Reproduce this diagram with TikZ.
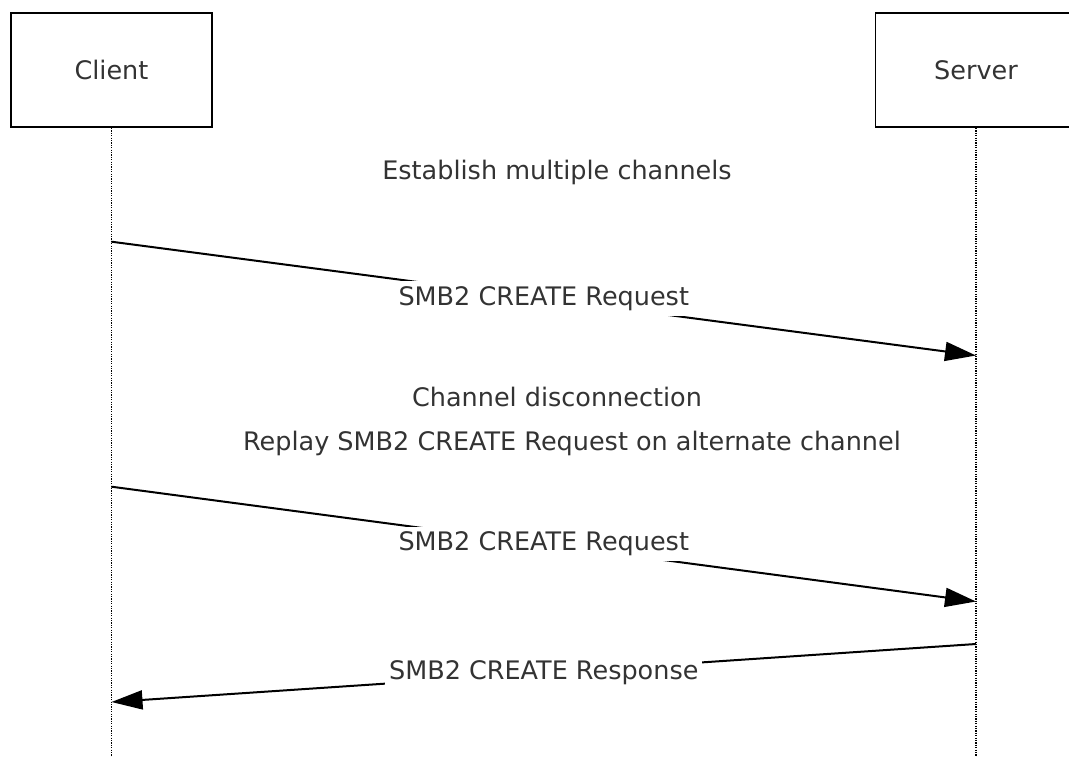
\documentclass[tikz,border=0pt]{standalone}
\usepackage{fontspec}
\setmainfont{DejaVu Sans}
\usetikzlibrary{arrows.meta}
\begin{document}
\begin{tikzpicture}[x=1pt,y=-1pt,
  txt/.style={font=\fontsize{25.5}{30}\selectfont,text=black!80},
  actor/.style={txt,draw,line width=1.8pt,minimum width=201pt,minimum height=114pt,inner sep=0pt},
  life/.style={dash pattern=on 1.2pt off 1.2pt,line width=1.3pt},
  msg/.style={line width=2pt,-{Triangle[length=31pt,width=19pt]}},
  lbl/.style={txt,fill=white,inner xsep=4pt,inner ysep=5pt},
  note/.style={txt,inner sep=0pt}]
\useasboundingbox (0,0) rectangle (1069,756);
\node[actor] (client) at (111.5,70) {Client};
\node[actor] (server) at (976,70) {Server};
\coordinate (cend) at (111.5,760);
\coordinate (send) at (976,760);
\draw[life] (client.south) -- (cend);
\draw[life] (server.south) -- (send);
\node[note] (n1) at (557,172) {Establish multiple channels};
\node[note] (n2) at (557,397) {Channel disconnection};
\node[note] (n3) at (572,443) {Replay SMB2 CREATE Request on alternate channel};
\coordinate (a1s) at (111.5,241.7);
\coordinate (a1e) at (976,355.5);
\coordinate (a2s) at (111.5,486.7);
\coordinate (a2e) at (976,601.5);
\coordinate (a3s) at (976,644);
\coordinate (a3e) at (111.5,702);
\draw[msg] (a1s) -- node[lbl] (l1) {SMB2 CREATE Request} (a1e);
\draw[msg] (a2s) -- node[lbl] (l2) {SMB2 CREATE Request} (a2e);
\draw[msg] (a3s) -- node[lbl] (l3) {SMB2 CREATE Response} (a3e);
\end{tikzpicture}
\end{document}
